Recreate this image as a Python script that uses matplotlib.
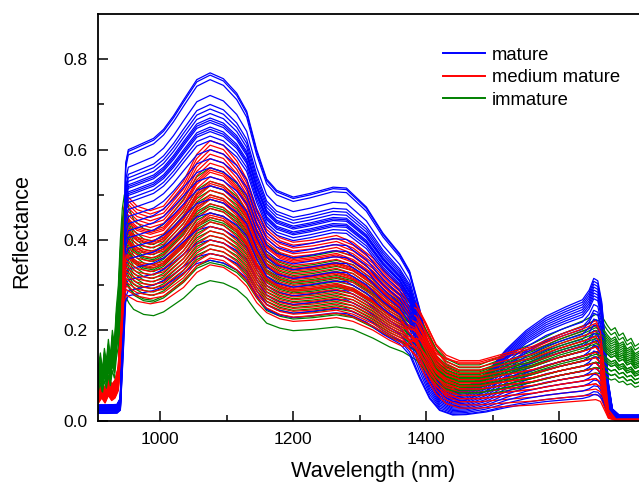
import numpy as np
import matplotlib.pyplot as plt

plt.rcParams['font.family'] = ['Liberation Sans', 'DejaVu Sans']

blue_wl = [907, 920, 935, 940, 944, 948, 952, 960, 975, 990, 1005, 1020, 1035, 1055, 1075,
           1095, 1115, 1130, 1145, 1160, 1175, 1200, 1225, 1260, 1280, 1310, 1335, 1360, 1375,
           1390, 1405, 1420, 1440, 1460, 1490, 1520, 1550, 1580, 1610, 1635, 1645, 1652, 1658,
           1664, 1669, 1674, 1680, 1690, 1720]
blue_top = [0.035, 0.035, 0.036, 0.05, 0.30, 0.57, 0.60, 0.605, 0.615, 0.625, 0.645, 0.675, 0.71,
            0.755, 0.77, 0.757, 0.725, 0.685, 0.60, 0.535, 0.51, 0.495, 0.503, 0.517, 0.515,
            0.473, 0.415, 0.37, 0.33, 0.245, 0.15, 0.085, 0.065, 0.07, 0.10, 0.15, 0.19, 0.22,
            0.24, 0.255, 0.275, 0.30, 0.295, 0.25, 0.17, 0.08, 0.025, 0.012, 0.012]

red_wl = [907, 912, 917, 922, 927, 932, 937, 941, 945, 949, 955, 965, 985, 1005, 1035, 1055,
          1075, 1095, 1115, 1130, 1145, 1160, 1180, 1200, 1230, 1265, 1290, 1320, 1345, 1365,
          1385, 1400, 1415, 1430, 1450, 1480, 1520, 1560, 1600, 1640, 1655, 1662, 1668, 1674,
          1685, 1720]
red_top = [0.07, 0.09, 0.07, 0.10, 0.08, 0.09, 0.12, 0.30, 0.47, 0.50, 0.49, 0.475, 0.465, 0.475,
           0.53, 0.59, 0.62, 0.61, 0.575, 0.535, 0.47, 0.43, 0.405, 0.395, 0.40, 0.41, 0.395,
           0.36, 0.32, 0.295, 0.26, 0.205, 0.15, 0.12, 0.105, 0.105, 0.118, 0.13, 0.15, 0.167,
           0.175, 0.16, 0.09, 0.02, 0.003, 0.003]

green_wl = [907, 910, 913, 916, 919, 922, 925, 928, 931, 934, 937, 940, 943, 946, 949, 953, 960,
            975, 990, 1005, 1035, 1055, 1075, 1095, 1115, 1130, 1145, 1160, 1180, 1200, 1230,
            1265, 1290, 1320, 1345, 1365, 1385, 1400, 1415, 1430, 1450, 1480, 1520, 1560, 1600,
            1640, 1655, 1665, 1672, 1678, 1684, 1690, 1696, 1702, 1708, 1714, 1720]
green_top = [0.12, 0.15, 0.11, 0.16, 0.13, 0.18, 0.14, 0.20, 0.17, 0.25, 0.30, 0.40, 0.47, 0.50,
             0.49, 0.47, 0.445, 0.425, 0.42, 0.435, 0.49, 0.54, 0.56, 0.55, 0.525, 0.49, 0.435,
             0.39, 0.37, 0.36, 0.365, 0.375, 0.365, 0.33, 0.295, 0.275, 0.24, 0.19, 0.145, 0.12,
             0.105, 0.105, 0.125, 0.145, 0.17, 0.19, 0.20, 0.195, 0.18, 0.17, 0.175, 0.16, 0.165,
             0.15, 0.155, 0.14, 0.145]

# Peak reflectance (~1075 nm) of each sample curve
mature_peaks = [0.77, 0.765, 0.755, 0.72, 0.70, 0.69, 0.68, 0.67, 0.665, 0.66, 0.65, 0.645,
                0.64, 0.63, 0.62, 0.60, 0.58, 0.56, 0.54, 0.52, 0.49, 0.46, 0.43, 0.40, 0.37,
                0.355]
medium_peaks = [0.62, 0.61, 0.60, 0.59, 0.58, 0.57, 0.56, 0.555, 0.55, 0.54, 0.53, 0.525, 0.52,
                0.51, 0.50, 0.495, 0.49, 0.48, 0.47, 0.46, 0.455, 0.45, 0.44, 0.43, 0.42, 0.41,
                0.40, 0.39, 0.38, 0.37, 0.36, 0.345]
immature_peaks = [0.56, 0.53, 0.52, 0.51, 0.50, 0.49, 0.48, 0.475, 0.47, 0.46, 0.45, 0.445,
                  0.44, 0.43, 0.42, 0.41, 0.40, 0.39, 0.38, 0.37, 0.355, 0.35, 0.31]

# Reflectance at 1600 nm of the same curves (same order)
mature_1600 = [0.245, 0.24, 0.235, 0.23, 0.225, 0.22, 0.215, 0.21, 0.20, 0.19, 0.185, 0.175,
               0.165, 0.155, 0.15, 0.14, 0.13, 0.12, 0.11, 0.10, 0.09, 0.08, 0.07, 0.06, 0.05,
               0.045]
medium_1600 = [0.14, 0.16, 0.10, 0.13, 0.18, 0.11, 0.15, 0.09, 0.12, 0.19, 0.14, 0.08, 0.13,
               0.17, 0.10, 0.12, 0.15, 0.07, 0.11, 0.14, 0.06, 0.13, 0.09, 0.16, 0.05, 0.11,
               0.08, 0.12, 0.04, 0.10, 0.07, 0.185]
immature_1600 = [0.19, 0.20, 0.15, 0.17, 0.13, 0.18, 0.12, 0.16, 0.14, 0.175, 0.11, 0.15, 0.13,
                 0.165, 0.10, 0.14, 0.155, 0.12, 0.09, 0.145, 0.11, 0.125, 0.10]

groups = [
    ('mature', blue_wl, blue_top, mature_peaks, mature_1600, '#0000ff'),
    ('medium mature', red_wl, red_top, medium_peaks, medium_1600, '#ff0000'),
    ('immature', green_wl, green_top, immature_peaks, immature_1600, '#008000'),
]

fig = plt.figure(figsize=(6.39, 4.84), dpi=100)
ax = fig.add_axes([0.154, 0.1308, 0.846, 0.840])

# build every curve, then draw the classes interleaved so no colour sits fully on top
curves = []
for label, wl, top, peaks, swir, color in groups:
    wl = np.array(wl)
    top = np.array(top)
    t1600 = np.interp(1600, wl, top)
    rows = []
    for p, s in zip(peaks, swir):
        # scale by peak level below 1370 nm and by 1600 nm level above 1440 nm
        k = np.interp(wl, [1370, 1440], [p / top.max(), s / t1600])
        rows.append((wl, top * k))
    curves.append((label, color, rows))

n_max = max(len(c[2]) for c in curves)
for i in range(n_max):
    for label, color, rows in curves:
        if i < len(rows):
            x, y = rows[i]
            ax.plot(x, y, color=color, lw=0.9, label=label if i == 0 else None)

ax.set_xlim(907, 1720)
ax.set_ylim(0, 0.9)
ax.set_xticks([1000, 1200, 1400, 1600])
ax.set_xticks([1100, 1300, 1500, 1700], minor=True)
ax.set_yticks([0.0, 0.2, 0.4, 0.6, 0.8])
ax.set_yticks([0.1, 0.3, 0.5, 0.7], minor=True)
ax.yaxis.set_major_formatter(plt.FormatStrFormatter('%.1f'))
ax.tick_params(which='both', direction='in', width=1.1, labelsize=12.5, pad=8)
ax.tick_params(which='major', length=7.5)
ax.tick_params(which='minor', length=4.5)
for s in ax.spines.values():
    s.set_linewidth(1.3)
ax.spines['right'].set_visible(False)

ax.set_xlabel('Wavelength (nm)', fontsize=15.7, labelpad=10, x=0.509)
ax.set_ylabel('Reflectance', fontsize=15.6, labelpad=22, y=0.467)

leg = ax.legend(loc='upper left', bbox_to_anchor=(0.62, 0.943), frameon=False, fontsize=13.3,
                handlelength=2.3, handletextpad=0.35, labelspacing=0.3, borderpad=0)
for h in leg.get_lines():
    h.set_linewidth(1.4)

fig.savefig('out.png', dpi=100)
